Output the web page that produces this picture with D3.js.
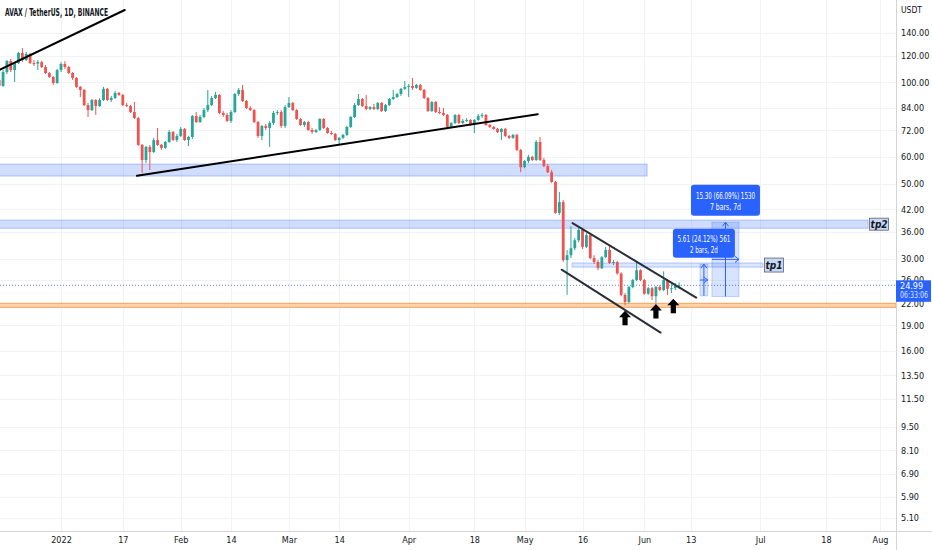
<!DOCTYPE html>
<html>
<head>
<meta charset="utf-8">
<script src="https://cdn.jsdelivr.net/npm/d3@7"></script>
<style>
  body { margin: 0; background: #fff; }
  text { font-family: "Liberation Sans Narrow", "DejaVu Sans Condensed", sans-serif; }
</style>
</head>
<body>
<script>
// daily candles, AVAX/USDT, one row per day from firstDay: [open, high, low, close]
var firstDay = '2021-12-16';
var candles = [
[101.6,103.0,96.2,97.5],[97.5,108.7,96.9,107.2],[107.2,116.4,105.8,115.6],[115.6,117.2,107.2,108.7],
[108.7,114.8,100.2,114.0],[114.0,123.0,113.3,122.2],[122.2,126.3,114.8,116.4],[116.4,123.0,115.6,121.3],
[121.3,122.2,113.3,114.0],[114.0,116.4,111.8,113.6],[113.6,116.4,108.7,114.8],[114.8,115.6,110.2,111.0],
[111.0,112.5,105.8,106.5],[106.5,107.2,103.0,103.7],[103.7,104.4,98.2,99.5],[99.5,109.5,98.9,108.7],
[108.7,114.8,107.2,113.3],[113.3,115.6,109.5,111.0],[111.0,111.8,105.8,106.5],[106.5,107.2,101.6,103.0],
[103.0,103.7,96.2,96.9],[96.9,97.5,90.4,94.9],[94.9,95.6,85.0,85.6],[85.6,86.8,78.9,82.7],
[82.7,89.2,82.2,88.6],[88.6,89.2,80.0,85.0],[85.0,89.8,84.4,88.6],[88.6,96.9,88.0,95.6],
[95.6,96.2,88.0,88.6],[88.6,91.1,87.4,89.8],[89.8,94.3,89.2,93.0],[93.0,93.6,91.1,91.7],
[91.7,92.3,85.0,85.6],[85.6,86.8,84.4,85.0],[85.0,85.6,81.1,81.6],[81.6,87.4,77.8,78.3],
[78.3,78.9,64.7,65.2],[65.2,65.6,53.8,58.8],[58.8,64.7,57.6,64.3],[64.3,65.2,54.9,62.1],
[62.1,68.4,61.7,67.4],[67.4,73.2,64.7,65.2],[65.2,65.6,63.0,63.9],[63.9,67.0,63.4,66.5],
[66.5,72.2,66.1,71.2],[71.2,71.7,67.0,67.4],[67.4,70.3,66.5,69.3],[69.3,73.7,68.8,72.7],
[72.7,73.2,67.0,67.4],[67.4,69.3,64.7,68.8],[68.8,80.0,67.9,79.4],[79.4,81.6,75.7,76.2],
[76.2,80.0,75.7,78.9],[78.9,83.9,78.3,82.7],[82.7,94.9,81.6,85.6],[85.6,91.1,85.0,89.8],
[89.8,93.6,89.2,91.7],[91.7,92.3,80.5,81.1],[81.1,82.2,78.9,80.0],[80.0,81.1,76.2,76.8],
[76.8,82.7,75.7,81.6],[81.6,93.0,81.1,92.3],[92.3,96.2,91.1,94.9],[94.9,98.2,87.4,88.0],
[88.0,88.6,83.3,83.9],[83.9,85.0,82.2,82.7],[82.7,83.3,75.7,76.2],[76.2,76.8,68.4,69.3],
[69.3,74.7,67.4,74.2],[74.2,75.2,72.2,73.2],[73.2,76.8,64.3,75.7],[75.7,82.2,74.7,81.1],
[81.1,82.7,80.0,81.6],[81.6,82.7,73.2,74.2],[74.2,85.6,73.2,84.4],[84.4,90.4,83.9,86.8],
[86.8,87.4,82.2,82.7],[82.7,83.3,77.3,77.8],[77.8,78.3,74.2,74.7],[74.7,76.8,73.7,76.2],
[76.2,76.8,71.7,72.2],[72.2,73.2,70.3,71.2],[71.2,72.7,70.7,72.2],[72.2,78.3,71.7,77.8],
[77.8,78.3,72.7,73.2],[73.2,73.7,70.3,70.7],[70.7,71.7,69.8,70.3],[70.3,70.7,67.0,67.4],
[67.4,68.8,65.2,68.4],[68.4,70.3,67.9,69.8],[69.8,74.2,69.3,73.7],[73.7,79.4,73.2,78.9],
[78.9,86.8,78.3,85.6],[85.6,92.3,85.0,89.2],[89.2,89.8,84.4,85.0],[85.0,91.7,82.7,83.3],
[83.3,85.0,82.7,84.4],[84.4,86.2,82.7,83.3],[83.3,87.4,82.7,86.8],[86.8,87.4,81.6,82.2],
[82.2,86.2,81.6,85.6],[85.6,89.8,85.0,89.2],[89.2,94.9,88.6,90.4],[90.4,93.0,89.8,92.3],
[92.3,96.2,91.1,95.6],[95.6,100.9,94.9,96.9],[96.9,98.9,90.4,97.5],[97.5,103.0,94.9,96.2],
[96.2,98.9,95.6,98.2],[98.2,98.9,94.3,94.9],[94.9,95.6,89.2,89.8],[89.8,90.4,81.6,82.2],
[82.2,88.0,81.6,87.4],[87.4,88.0,81.1,81.6],[81.6,84.4,80.5,81.1],[81.1,83.9,79.4,80.0],
[80.0,80.5,73.2,73.7],[73.7,76.2,73.2,75.7],[75.7,80.5,75.2,80.0],[80.0,80.5,75.2,75.7],
[75.7,77.8,75.2,76.8],[76.8,78.3,76.2,77.3],[77.3,77.8,74.2,74.7],[74.7,77.8,70.7,77.3],
[77.3,80.5,76.8,79.4],[79.4,81.1,78.3,80.0],[80.0,80.5,74.2,74.7],[74.7,75.2,73.2,73.7],
[73.7,74.2,72.2,72.7],[72.7,73.2,70.7,71.2],[71.2,73.2,67.4,72.7],[72.7,73.2,68.8,69.3],
[69.3,69.8,67.9,68.4],[68.4,70.3,67.9,69.8],[69.8,70.3,62.5,63.0],[63.0,63.4,54.1,56.0],
[56.0,58.8,55.6,58.4],[58.4,60.9,57.6,60.1],[60.1,60.5,58.4,58.8],[58.8,67.4,58.4,66.5],
[66.5,68.8,58.4,58.8],[58.8,59.7,56.0,56.4],[56.4,57.2,53.8,54.1],[54.1,54.9,50.3,50.6],
[50.6,51.0,40.7,40.95],[40.95,47.3,40.4,44.1],[44.1,44.7,29.3,29.7],[29.7,31.8,23.4,30.7],
[30.7,37.4,30.1,32.2],[32.2,34.5,31.8,34.0],[34.0,37.0,33.5,36.5],[36.5,37.0,32.0,32.5],
[32.5,35.7,32.2,35.2],[35.2,35.5,29.9,30.1],[30.1,30.7,28.9,29.3],[29.3,29.7,27.7,28.1],
[28.1,30.5,27.9,30.3],[30.3,32.5,30.1,31.8],[31.8,32.9,28.9,29.1],[29.1,29.7,28.7,29.3],
[29.3,29.5,26.9,27.1],[27.1,27.3,23.2,23.4],[23.4,23.7,21.8,22.3],[22.3,24.9,22.1,24.7],
[24.7,26.1,24.5,25.9],[25.9,29.3,25.7,27.7],[27.7,27.9,25.7,25.9],[25.9,26.1,23.4,23.6],
[23.6,24.7,23.4,24.5],[24.5,24.7,22.6,23.2],[23.2,24.9,22.1,24.7],[24.7,25.0,24.0,24.2],
[24.2,27.5,24.0,25.9],[25.9,26.1,23.4,24.4],[24.4,25.2,23.7,24.5],[24.5,25.4,24.2,24.9],
[24.9,25.5,24.4,24.99]
];

var priceTicks = [140, 120, 100, 84, 72, 60, 50, 42, 36, 30, 26, 22, 19, 16, 13.5, 11.5, 9.5, 8.1, 6.9, 5.9, 5.1];
var timeTickDates = ['2022-01-01','2022-01-17','2022-02-01','2022-02-14','2022-03-01','2022-03-14','2022-04-01',
                     '2022-04-18','2022-05-01','2022-05-16','2022-06-01','2022-06-13','2022-07-01','2022-07-18','2022-08-01'];
var timeTickLabels = ['2022','17','Feb','14','Mar','14','Apr','18','May','16','Jun','13','Jul','18','Aug'];

var lastPrice = 24.99;
var countdown = '06:33:06';

// drawn trend lines: [[date, price], [date, price]]
var trendLines = [
  [['2021-12-16T00:00Z', 108.7], ['2022-01-17T12:00Z', 163.8]],
  [['2022-01-20T16:00Z', 52.8],  ['2022-05-04T10:00Z', 80.4]],
  [['2022-05-13T10:00Z', 38.2],  ['2022-06-14T10:00Z', 22.98]],
  [['2022-05-10T14:00Z', 27.8],  ['2022-06-05T05:00Z', 18.1]]
];

// horizontal zones
var zoneFrom  = ['2021-12-01T00:00Z', '2021-12-01T00:00Z', '2022-05-13T07:00Z', '2021-12-01T00:00Z'];
var zoneTo    = ['2022-06-01T17:00Z', '2022-07-28T22:00Z', '2022-07-01T17:00Z', '2022-08-20T00:00Z'];
var zoneHigh  = [57.2, 39.0, 29.1, 22.1];
var zoneLow   = [52.7, 36.9, 28.3, 21.5];
var zoneLabel = ['', 'tp2', 'tp1', ''];

// price range measurements
var rangeFrom  = ['2022-06-18T12:00Z', '2022-06-15T10:00Z'];
var rangeTo    = ['2022-06-25T12:00Z', '2022-06-17T10:00Z'];
var rangeStart = [23.15, 23.26];
var rangeEnd   = [38.45, 28.87];
var rangeText1 = ['15.30 (66.09%) 1530', '5.61 (24.12%) 561'];
var rangeText2 = ['7 bars, 7d', '2 bars, 2d'];

// up arrows under the lows: [date, price at arrow tip]
var arrowDates  = ['2022-05-27T00:00Z', '2022-06-04T00:00Z', '2022-06-08T12:00Z'];
var arrowPrices = [21.0, 22.0, 22.8];

var W = 932, H = 550;
var plotRight = 896, plotBottom = 531;
var up = '#26a69a', down = '#ef5350';

var svg = d3.select('body').append('svg')
            .attr('width', W)
            .attr('height', H);

var x = d3.scaleUtc()
          .domain([new Date('2022-01-01T00:00Z'), new Date('2022-08-01T00:00Z')])
          .range([61, 880]);
var y = d3.scaleLog()
          .domain([5.1, 140])
          .range([518, 33]);
var t = function(s){ return new Date(s); };

svg.append('clipPath').attr('id', 'plot')
   .append('rect').attr('x', 0).attr('y', 0).attr('width', plotRight).attr('height', plotBottom);

// grid
var grid = svg.append('g').attr('clip-path', 'url(#plot)');
grid.selectAll('.hg').data(priceTicks).enter().append('line')
    .attr('x1', 0).attr('x2', plotRight)
    .attr('y1', function(d){ return Math.round(y(d)) + 0.5; })
    .attr('y2', function(d){ return Math.round(y(d)) + 0.5; })
    .attr('stroke', '#f0f3fa');
grid.selectAll('.vg').data(timeTickDates).enter().append('line')
    .attr('y1', 0).attr('y2', plotBottom)
    .attr('x1', function(d){ return Math.round(x(t(d + 'T00:00Z'))) + 0.5; })
    .attr('x2', function(d){ return Math.round(x(t(d + 'T00:00Z'))) + 0.5; })
    .attr('stroke', '#f0f3fa');

var plot = svg.append('g').attr('clip-path', 'url(#plot)');

// zones
zoneHigh.forEach(function(hi, i){
  var x0 = Math.max(x(t(zoneFrom[i])), -2), x1 = Math.min(x(t(zoneTo[i])), plotRight);
  var isBase = (i === 3);
  plot.append('rect')
      .attr('x', x0).attr('width', x1 - x0)
      .attr('y', y(hi)).attr('height', y(zoneLow[i]) - y(hi))
      .attr('fill', isBase ? '#fcd3ad' : (i === 2 ? 'rgba(41,98,255,0.16)' : 'rgba(41,98,255,0.22)'))
      .attr('stroke', isBase ? '#f5a05a' : 'rgba(41,98,255,0.32)')
      .attr('stroke-width', 1);
});

// last price dotted line
plot.append('line')
    .attr('x1', 0).attr('x2', plotRight)
    .attr('y1', y(lastPrice)).attr('y2', y(lastPrice))
    .attr('stroke', '#6a7ef0').attr('stroke-width', 1)
    .attr('stroke-dasharray', '1,2');

// candles
var day0 = t(firstDay + 'T00:00Z');
var bars = plot.append('g').selectAll('g').data(candles).enter().append('g');
bars.each(function(d, i){
  var g = d3.select(this);
  var cx = x(d3.utcDay.offset(day0, i));
  var col = d[3] >= d[0] ? up : down;
  g.append('line')
   .attr('x1', cx).attr('x2', cx)
   .attr('y1', y(d[1])).attr('y2', y(d[2]))
   .attr('stroke', col).attr('stroke-width', 1);
  var top = y(Math.max(d[0], d[3])), bot = y(Math.min(d[0], d[3]));
  g.append('rect')
   .attr('x', cx - 1.4).attr('width', 2.8)
   .attr('y', top).attr('height', Math.max(bot - top, 1))
   .attr('fill', col);
});

// trend lines
trendLines.forEach(function(l, i){
  plot.append('line')
      .attr('x1', x(t(l[0][0]))).attr('y1', y(l[0][1]))
      .attr('x2', x(t(l[1][0]))).attr('y2', y(l[1][1]))
      .attr('stroke', i < 2 ? '#000' : '#2a2e39')
      .attr('stroke-width', 2)
      .attr('stroke-linecap', 'round');
});

// up arrows
arrowDates.forEach(function(d, i){
  var ax = x(t(d)), ay = y(arrowPrices[i]);
  var pts = [[ax, ay], [ax + 6, ay + 6.5], [ax + 2.6, ay + 6.5], [ax + 2.6, ay + 14.5],
             [ax - 2.6, ay + 14.5], [ax - 2.6, ay + 6.5], [ax - 6, ay + 6.5]];
  plot.append('polygon')
      .attr('points', pts.map(function(p){ return p.join(','); }).join(' '))
      .attr('fill', '#000');
});

// price range measurements
rangeFrom.forEach(function(f, i){
  var x0 = x(t(f)), x1 = x(t(rangeTo[i]));
  var yT = y(rangeEnd[i]), yB = y(rangeStart[i]);
  var xm = (x0 + x1) / 2, ym = (yT + yB) / 2;
  var g = plot.append('g');
  g.append('rect')
   .attr('x', x0).attr('y', yT).attr('width', x1 - x0).attr('height', yB - yT)
   .attr('fill', 'rgba(41,98,255,0.18)').attr('stroke', 'rgba(41,98,255,0.25)');
  g.append('line').attr('x1', xm).attr('x2', xm).attr('y1', yB).attr('y2', yT)
   .attr('stroke', '#2962ff').attr('stroke-width', 1);
  g.append('polyline').attr('points', (xm - 3) + ',' + (yT + 4) + ' ' + xm + ',' + yT + ' ' + (xm + 3) + ',' + (yT + 4))
   .attr('fill', 'none').attr('stroke', '#2962ff');
  g.append('line').attr('x1', x0).attr('x2', x1).attr('y1', ym).attr('y2', ym)
   .attr('stroke', '#2962ff').attr('stroke-width', 1);
  g.append('polyline').attr('points', (x1 - 4) + ',' + (ym - 3) + ' ' + x1 + ',' + ym + ' ' + (x1 - 4) + ',' + (ym + 3))
   .attr('fill', 'none').attr('stroke', '#2962ff');
});
var labelW1 = [59, 53], labelW2 = [31, 28];
rangeFrom.forEach(function(f, i){
  var x0 = x(t(f)), x1 = x(t(rangeTo[i]));
  var xm = (x0 + x1) / 2, yT = y(rangeEnd[i]);
  var bw = i === 0 ? 69 : 62, bh = i === 0 ? 31 : 29;
  var by = yT - 6.5 - bh;
  plot.append('rect')
      .attr('x', xm - bw / 2).attr('y', by).attr('width', bw).attr('height', bh)
      .attr('rx', 3).attr('fill', '#2962ff');
  plot.append('text').attr('x', xm).attr('y', by + bh * 0.36)
      .attr('text-anchor', 'middle').attr('dominant-baseline', 'central')
      .attr('font-size', 8.5).attr('fill', '#fff')
      .attr('textLength', labelW1[i]).attr('lengthAdjust', 'spacingAndGlyphs')
      .text(rangeText1[i]);
  plot.append('text').attr('x', xm).attr('y', by + bh * 0.72)
      .attr('text-anchor', 'middle').attr('dominant-baseline', 'central')
      .attr('font-size', 8.5).attr('fill', '#fff')
      .attr('textLength', labelW2[i]).attr('lengthAdjust', 'spacingAndGlyphs')
      .text(rangeText2[i]);
});

// tp labels
zoneLabel.forEach(function(lab, i){
  if (!lab) return;
  var lx = x(t(zoneTo[i])) + 1.5;
  var lyc = (y(zoneHigh[i]) + y(zoneLow[i])) / 2;
  var bh = i === 2 ? 14 : 12;
  plot.append('rect')
      .attr('x', lx).attr('y', lyc - bh / 2).attr('width', 19).attr('height', bh)
      .attr('fill', '#c6d8f7').attr('stroke', '#5d606b').attr('stroke-width', 0.8);
  plot.append('text')
      .attr('x', lx + 9.5).attr('y', lyc + 0.5)
      .attr('text-anchor', 'middle').attr('dominant-baseline', 'central')
      .attr('font-size', 10).attr('font-weight', 'bold').attr('font-style', 'italic')
      .attr('fill', '#131722').text(lab);
});

// right price axis
var yAxis = d3.axisRight(y).tickValues(priceTicks)
              .tickFormat(d3.format('.2f')).tickSize(0).tickPadding(5);
var ya = svg.append('g').attr('transform', 'translate(' + plotRight + ',0)').call(yAxis);
ya.select('.domain').attr('stroke', '#d1d4dc');
ya.selectAll('text').attr('font-size', 9).attr('fill', '#131722')
  .attr('font-family', '"Liberation Sans Narrow", "DejaVu Sans Condensed", sans-serif');
svg.append('line').attr('x1', plotRight + 0.5).attr('x2', plotRight + 0.5)
   .attr('y1', 0).attr('y2', H).attr('stroke', '#d1d4dc');
svg.append('text').attr('x', plotRight + 5).attr('y', 10)
   .attr('dominant-baseline', 'central').attr('font-size', 8.5).attr('fill', '#131722').text('USDT');

// bottom time axis
var xAxis = d3.axisBottom(x).tickValues(timeTickDates.map(function(d){ return t(d + 'T00:00Z'); }))
              .tickFormat(function(d, i){ return timeTickLabels[i]; })
              .tickSize(0).tickPadding(6);
var xa = svg.append('g').attr('transform', 'translate(0,' + plotBottom + ')').call(xAxis);
xa.select('.domain').remove();
xa.selectAll('text').attr('font-size', 9).attr('fill', '#131722')
  .attr('font-family', '"Liberation Sans Narrow", "DejaVu Sans Condensed", sans-serif');
svg.append('line').attr('x1', 0).attr('x2', W)
   .attr('y1', plotBottom + 0.5).attr('y2', plotBottom + 0.5).attr('stroke', '#d1d4dc');

// last price tag
var ly = y(lastPrice);
svg.append('rect').attr('x', plotRight).attr('y', ly - 5).attr('width', 35).attr('height', 21.5)
   .attr('fill', '#2962ff');
svg.append('text').attr('x', plotRight + 4).attr('y', ly + 0.5)
   .attr('dominant-baseline', 'central').attr('font-size', 9).attr('fill', '#fff').text(lastPrice.toFixed(2));
svg.append('text').attr('x', plotRight + 4).attr('y', ly + 10.5)
   .attr('dominant-baseline', 'central').attr('font-size', 8).attr('fill', '#dce4ff')
   .attr('textLength', 28).attr('lengthAdjust', 'spacingAndGlyphs')
   .text(countdown);

// title
svg.append('text').attr('x', 5).attr('y', 12)
   .attr('dominant-baseline', 'central')
   .attr('font-size', 10.5).attr('font-weight', 'bold').attr('fill', '#131722')
   .attr('textLength', 103).attr('lengthAdjust', 'spacingAndGlyphs')
   .text('AVAX / TetherUS, 1D, BINANCE');
</script>
</body>
</html>
